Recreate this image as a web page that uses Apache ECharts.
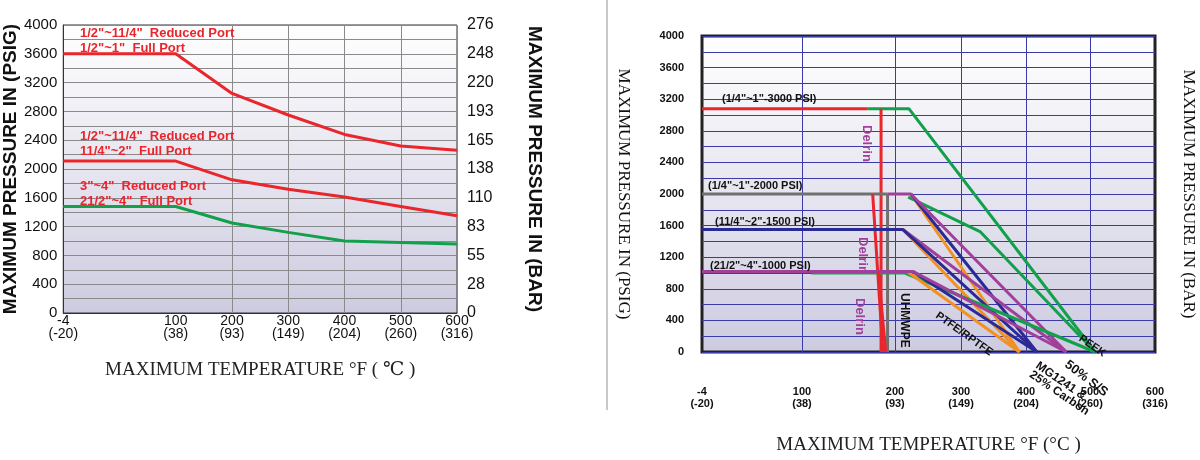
<!DOCTYPE html>
<html><head><meta charset="utf-8">
<script src="https://cdn.jsdelivr.net/npm/echarts@6/dist/echarts.min.js"></script>
<style>html,body{margin:0;background:#fff}#c{width:1200px;height:460px}</style></head>
<body><div id="c"></div>
<script>
// ---- shared tick labels ----
const tempTicksF = [-4, 100, 200, 300, 400, 500, 600];
const tempTicksC = [-20, 38, 93, 149, 204, 260, 316];
// axis positions of ticks (non-uniform temperature scale in the originals)
const leftTickPos = [0, 2, 3, 4, 5, 6, 7];
const rightTickPos = [0, 100, 193, 259, 324, 388, 453];
const barTicks = [0, 28, 55, 83, 110, 138, 165, 193, 220, 248, 276];

// ---- left chart data: [°F, psig] ----
const leftTemps = [-4, 100, 200, 300, 400, 500, 600];
const leftSmall = [3600, 3600, 3050, 2750, 2480, 2320, 2260];
const leftMid = [2110, 2110, 1850, 1720, 1610, 1480, 1350];
const leftLarge = [1480, 1480, 1250, 1120, 1000, 980, 960];

// ---- right chart data: [°F, psig] ----
const r3000Red = [[-4, 3080], [170, 3080]];
const r3000Peek = [[170, 3080], [221, 3080], [508, 0]];
const r3000Delrin = [[185, 3080], [185, 0]];
const r2000Grey = [[-4, 2000], [192, 2000]];
const r2000Uhmwpe = [[192, 2000], [192, 0]];
const r2000Delrin = [[176, 2000], [187, 0]];
const r2000Purple = [[192, 2000], [224, 2000], [463, 0]];
const r2000Orange = [[224, 2000], [390, 0]];
const r2000Navy = [[224, 2000], [417, 0]];
const r2000Green = [[220, 1960], [330, 1520], [508, 0]];
const r1500Navy = [[-4, 1550], [212, 1550], [417, 0]];
const r1500Purple = [[212, 1550], [463, 0]];
const r1500Orange = [[212, 1550], [390, 0]];
const r1000Purple = [[-4, 1020], [227, 1020], [463, 0]];
const r1000Green = [[110, 1000], [215, 1000], [508, 0]];
const r1000Navy = [[227, 1020], [417, 0]];
const r1000Orange = [[220, 1010], [390, 0]];
const r1000Delrin = [[182, 1020], [190, 0]];

function toPos(t, pos) {
  for (let i = 0; i < tempTicksF.length - 1; i++) {
    const a = tempTicksF[i], b = tempTicksF[i + 1];
    if (t <= b || i === tempTicksF.length - 2) return pos[i] + (t - a) / (b - a) * (pos[i + 1] - pos[i]);
  }
}
const conv = (arr, pos) => arr.map(d => [toPos(d[0], pos), d[1]]);
const lab = (pos) => (v) => { const i = pos.indexOf(Math.round(v)); return i < 0 ? '' : tempTicksF[i] + '\n(' + tempTicksC[i] + ')'; };

const RED = '#e8262b', GREEN = '#12a04a', NAVY = '#2a2a96', PURPLE = '#a0409a', ORANGE = '#f39020', GREY = '#707070';
const bgGrad = {type: 'linear', x: 0, y: 0, x2: 0, y2: 1, colorStops: [{offset: 0, color: '#ffffff'}, {offset: 1, color: '#cdcbe0'}]};
const narrow = '"Liberation Sans Narrow", "Liberation Sans", Arial, sans-serif';
const serif = '"Liberation Serif", "DejaVu Serif", serif';
const boldSans = 'Arial, "Liberation Sans", sans-serif';

function L(data, color, xi, w) {
  return {type: 'line', xAxisIndex: xi, yAxisIndex: xi === 0 ? 0 : 2, data: data, symbol: 'none', silent: true,
    lineStyle: {color: color, width: w || 3}, z: 5};
}
function vlines(pos, idxs, color, xi) {
  return {type: 'line', xAxisIndex: xi, yAxisIndex: xi === 0 ? 0 : 2, data: [], silent: true,
    markLine: {symbol: 'none', silent: true, label: {show: false}, lineStyle: {color: color, width: 1, type: 'solid'},
      data: idxs.map(i => ({xAxis: pos[i]}))}};
}

const option = {
  animation: false,
  grid: [
    {left: 62, right: 743, top: 25, bottom: 147, show: true, backgroundColor: bgGrad, borderColor: '#333', borderWidth: 1},
    {left: 702, right: 45, top: 36, bottom: 101, show: true, backgroundColor: bgGrad, borderColor: '#222', borderWidth: 3}
  ],
  xAxis: [
    {gridIndex: 0, type: 'value', min: 0, max: 7, splitLine: {show: false}, axisTick: {show: false},
      axisLine: {lineStyle: {color: '#333'}},
      axisLabel: {customValues: leftTickPos, formatter: lab(leftTickPos), color: '#111', fontFamily: narrow, fontSize: 14, lineHeight: 13, margin: 2},
      name: 'MAXIMUM TEMPERATURE °F ( ℃ )', nameLocation: 'middle', nameGap: 48,
      nameTextStyle: {fontFamily: serif, fontSize: 19, color: '#222'}},
    {gridIndex: 1, type: 'value', min: 0, max: 453, splitLine: {show: false}, axisTick: {show: false},
      axisLine: {show: false},
      axisLabel: {customValues: rightTickPos, formatter: lab(rightTickPos), color: '#111', fontFamily: boldSans, fontWeight: 'bold', fontSize: 11, lineHeight: 12, margin: 34},
      name: 'MAXIMUM TEMPERATURE °F (°C )', nameLocation: 'middle', nameGap: 84,
      nameTextStyle: {fontFamily: serif, fontSize: 19, color: '#222'}}
  ],
  yAxis: [
    {gridIndex: 0, type: 'value', min: 0, max: 4000, interval: 200,
      splitLine: {lineStyle: {color: '#8a8a8a', width: 1}}, axisTick: {show: false}, axisLine: {show: true, lineStyle: {color: '#333'}},
      axisLabel: {formatter: v => v % 400 === 0 ? String(v) : '', color: '#111', fontFamily: narrow, fontSize: 15, margin: 6},
      name: 'MAXIMUM PRESSURE IN (PSIG)', nameLocation: 'middle', nameGap: 40, nameRotate: 90,
      nameTextStyle: {fontFamily: narrow, fontWeight: 'bold', fontSize: 19, color: '#111'}},
    {gridIndex: 0, type: 'value', position: 'right', min: 0, max: 276, interval: 27.6, splitLine: {show: false},
      axisTick: {show: false}, axisLine: {show: false},
      axisLabel: {formatter: v => String(barTicks[Math.round(v / 27.6)]), color: '#111', fontFamily: narrow, fontSize: 16, margin: 10},
      name: 'MAXIMUM PRESSURE IN (BAR)', nameLocation: 'middle', nameGap: 68, nameRotate: -90,
      nameTextStyle: {fontFamily: narrow, fontWeight: 'bold', fontSize: 19, color: '#111'}},
    {gridIndex: 1, type: 'value', min: 0, max: 4000, interval: 200,
      splitLine: {lineStyle: {color: '#3b3ba8', width: 1}}, axisTick: {show: false}, axisLine: {show: false},
      axisLabel: {formatter: v => v % 400 === 0 ? String(v) : '', color: '#111', fontFamily: boldSans, fontWeight: 'bold', fontSize: 11, margin: 18},
      name: 'MAXIMUM PRESSURE IN (PSIG)', nameLocation: 'middle', nameGap: 70, nameRotate: -90,
      nameTextStyle: {fontFamily: serif, fontSize: 17, color: '#111'}},
    {gridIndex: 1, type: 'value', position: 'right', min: 0, max: 4000, splitLine: {show: false},
      axisTick: {show: false}, axisLine: {show: false}, axisLabel: {show: false},
      name: 'MAXIMUM PRESSURE IN (BAR)', nameLocation: 'middle', nameGap: 25, nameRotate: -90,
      nameTextStyle: {fontFamily: serif, fontSize: 17, color: '#111'}}
  ],
  series: [
    vlines(leftTickPos, [2, 3, 4, 5, 6], '#8a8a8a', 0),
    L(conv(leftTemps.map((t, i) => [t, leftSmall[i]]), leftTickPos), RED, 0, 3),
    L(conv(leftTemps.map((t, i) => [t, leftMid[i]]), leftTickPos), RED, 0, 3),
    L(conv(leftTemps.map((t, i) => [t, leftLarge[i]]), leftTickPos), GREEN, 0, 3),
    vlines(rightTickPos, [1, 2, 3, 4, 5], '#3b3ba8', 1),
    L(conv(r3000Red, rightTickPos), RED, 1),
    L(conv(r3000Peek, rightTickPos), GREEN, 1),
    L(conv(r3000Delrin, rightTickPos), RED, 1),
    L(conv(r2000Grey, rightTickPos), GREY, 1),
    L(conv(r2000Uhmwpe, rightTickPos), GREY, 1),
    L(conv(r2000Delrin, rightTickPos), RED, 1),
    L(conv(r2000Green, rightTickPos), GREEN, 1),
    L(conv(r2000Orange, rightTickPos), ORANGE, 1),
    L(conv(r2000Navy, rightTickPos), NAVY, 1),
    L(conv(r2000Purple, rightTickPos), PURPLE, 1),
    L(conv(r1500Orange, rightTickPos), ORANGE, 1),
    L(conv(r1500Purple, rightTickPos), PURPLE, 1),
    L(conv(r1500Navy, rightTickPos), NAVY, 1),
    L(conv(r1000Green, rightTickPos), GREEN, 1),
    L(conv(r1000Orange, rightTickPos), ORANGE, 1),
    L(conv(r1000Navy, rightTickPos), NAVY, 1),
    L(conv(r1000Purple, rightTickPos), PURPLE, 1),
    L(conv(r1000Delrin, rightTickPos), RED, 1)
  ],
  graphic: [
    {type: 'line', shape: {x1: 607, y1: 0, x2: 607, y2: 410}, style: {stroke: '#c8c8c8', lineWidth: 2}},
    ...[['1/2"~11/4"  Reduced Port', 80, 27], ['1/2"~1"  Full Port', 80, 42], ['1/2"~11/4"  Reduced Port', 80, 130],
        ['11/4"~2"  Full Port', 80, 145], ['3"~4"  Reduced Port', 80, 180], ['21/2"~4"  Full Port', 80, 195]]
      .map(a => ({type: 'text', x: a[1], y: a[2], z: 10, style: {text: a[0], fill: RED, font: 'bold 13px ' + narrow}})),
    ...[['(1/4"~1"-3000 PSI)', 722, 93], ['(1/4"~1"-2000 PSI)', 708, 180], ['(11/4"~2"-1500 PSI)', 715, 216], ['(21/2"~4"-1000 PSI)', 710, 260]]
      .map(a => ({type: 'text', x: a[1], y: a[2], z: 10, style: {text: a[0], fill: '#111', font: 'bold 11px ' + boldSans}})),
    ...[[873, 125], [869, 237], [866, 298]].map(a => ({type: 'text', x: a[0], y: a[1], rotation: -Math.PI / 2, z: 10,
      style: {text: 'Delrin', fill: PURPLE, font: 'bold 13px ' + boldSans}})),
    {type: 'text', x: 910, y: 293, rotation: -Math.PI / 2, z: 10, style: {text: 'UHMWPE', fill: '#111', font: 'bold 12px ' + boldSans}},
    {type: 'text', x: 940, y: 310, rotation: -0.62, z: 10, style: {text: 'PTFE/RPTFE', fill: '#111', font: 'bold 11px ' + boldSans}},
    {type: 'text', x: 1040, y: 360, rotation: -0.6, z: 10, style: {text: 'MG1241 &\n25% Carbon', fill: '#111', font: 'bold 12px ' + boldSans, lineHeight: 11}},
    {type: 'text', x: 1070, y: 358, rotation: -0.65, z: 10, style: {text: '50% S/S', fill: '#111', font: 'bold 13px ' + boldSans}},
    {type: 'text', x: 1083, y: 333, rotation: -0.6, z: 10, style: {text: 'PEEK', fill: '#111', font: 'bold 11px ' + boldSans}}
  ]
};
echarts.init(document.getElementById('c')).setOption(option);
</script>
</body></html>
